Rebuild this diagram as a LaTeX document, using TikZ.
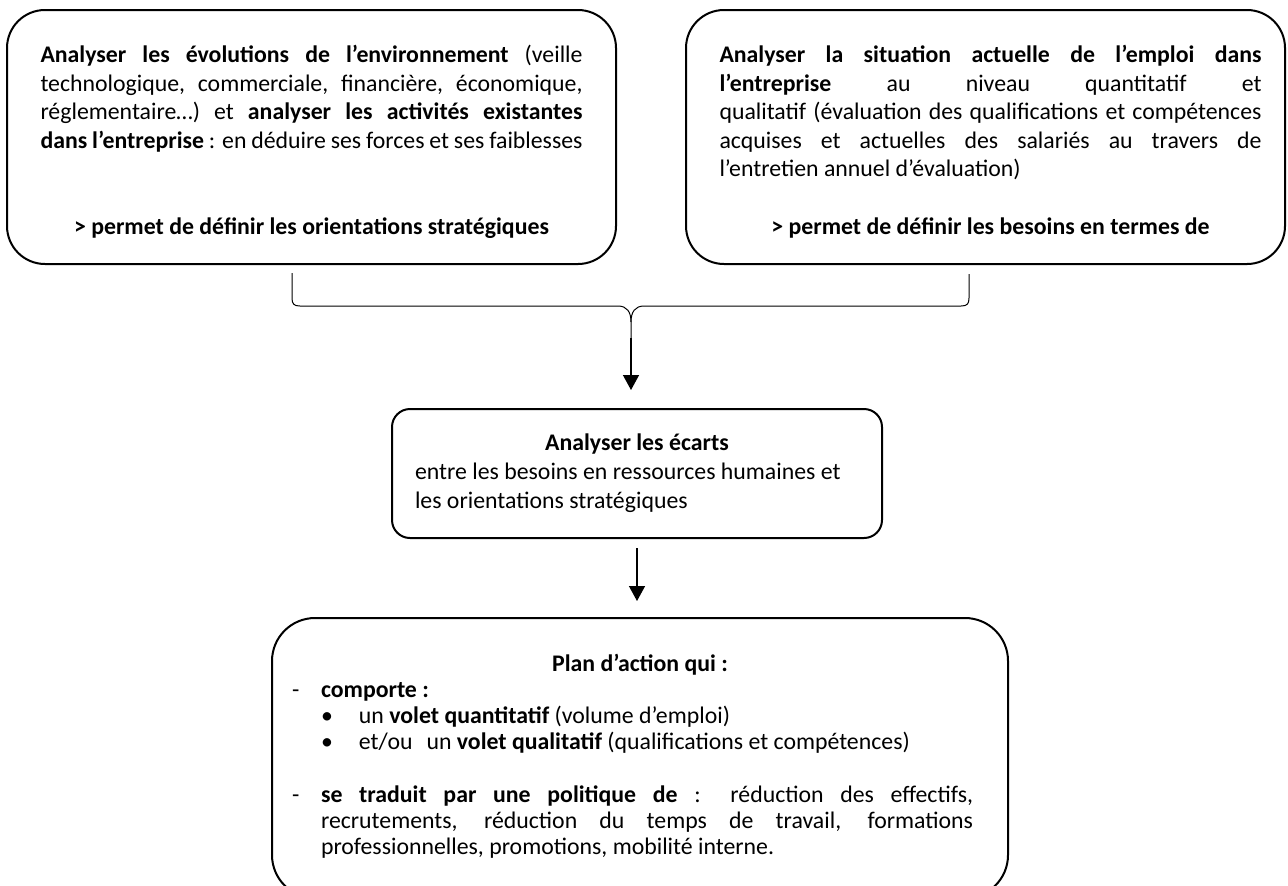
\documentclass[tikz,border=0pt]{standalone}
\usepackage{fontspec}
\setmainfont{Carlito}
\usetikzlibrary{positioning,arrows.meta}
\hbadness=10000

\begin{document}
\begin{tikzpicture}[x=0.5pt, y=-0.5pt,
    font=\fontsize{11.9pt}{14.25pt}\selectfont,
    analysis/.style={rectangle, draw, line width=1pt, rounded corners=19pt, minimum width=304.5pt, minimum height=127pt, inner sep=0pt},
    gapbox/.style={rectangle, draw, line width=1pt, rounded corners=9pt, minimum width=245pt, minimum height=64.5pt, inner sep=0pt, font=\fontsize{11.9pt}{14.5pt}\selectfont},
    planbox/.style={rectangle, draw, line width=1pt, rounded corners=21.5pt, minimum width=368pt, minimum height=140pt, inner sep=0pt, font=\fontsize{11.9pt}{13.1pt}\selectfont},
    brace/.style={line width=0.5pt},
    flow/.style={-{Triangle[length=7.5pt,width=8pt]}, line width=0.7pt}]

    \useasboundingbox (0,0) rectangle (1288,885);
    \clip (0,0) rectangle (1288,885);

    \node [analysis] (environment) at (311.5,137) {\parbox[c][99.5pt][s]{271pt}{%
        \vspace*{5pt}%
        \textbf{Analyser les évolutions de l’environnement} (veille\linebreak
        technologique, commerciale, financière, économique,\linebreak
        réglementaire…) et \textbf{analyser les activités existantes}\linebreak
        \textbf{dans l’entreprise} : en déduire ses forces et ses faiblesses\par
        \vfill
        {\centering\textbf{> permet de définir les orientations stratégiques}\par}}};
    \node [analysis, right=34pt of environment, minimum width=299.5pt] (employment) {\hspace*{5pt}\parbox[c][99.5pt][s]{271pt}{%
        \vspace*{5pt}%
        \textbf{Analyser la situation actuelle de l’emploi dans}\linebreak
        \textbf{l’entreprise} au niveau quantitatif et\linebreak
        qualitatif (évaluation des qualifications et compétences\linebreak
        acquises et actuelles des salariés au travers de\linebreak
        l’entretien annuel d’évaluation)\par
        \vfill
        {\centering\textbf{> permet de définir les besoins en termes de}\par}}};

    % accolade sous les deux analyses
    \coordinate (bracetip) at (631,338);
    \draw [brace] (292,273) -- (292,298) .. controls (292,304) and (294,306) .. (300,306) -- (618,306) .. controls (627,306) and (631,312) .. (631,322) -- (bracetip);
    \draw [brace] (969,274) -- (969,298) .. controls (969,304) and (967,306) .. (961,306) -- (644,306) .. controls (635,306) and (631,312) .. (631,322);

    \node [gapbox, below=35pt of bracetip, xshift=3pt] (gaps) {\parbox{222pt}{%
        {\centering\textbf{Analyser les écarts}\par}
        \raggedright entre les besoins en ressources humaines et\\
        les orientations stratégiques}};
    \node [planbox, below=39pt of gaps, xshift=1.5pt] (plan) {\parbox[c][104pt][t]{348pt}{%
        {\centering\textbf{Plan d’action qui :}\par}
        \noindent\makebox[14.5pt][l]{-}\textbf{comporte :}\par
        \noindent\hspace*{14.5pt}\makebox[19pt][l]{\textbullet}un \textbf{volet quantitatif} (volume d’emploi)\par
        \noindent\hspace*{14.5pt}\makebox[19pt][l]{\textbullet}et/ou\hspace{7pt}un \textbf{volet qualitatif} (qualifications et compétences)\par
        \vspace{13.1pt}
        {\rightskip=7.5pt\hangindent=14.5pt\hangafter=0\noindent\llap{\makebox[14.5pt][l]{-}}%
        \textbf{se traduit par une politique de} : réduction des effectifs,\linebreak
        recrutements, réduction du temps de travail, formations\linebreak
        professionnelles, promotions, mobilité interne.\par}}};

    \draw [flow, shorten >=9pt] (bracetip) -- (bracetip |- gaps.north);
    \draw [flow, shorten <=4.5pt, shorten >=8pt] (gaps.south) -- (gaps.south |- plan.north);
\end{tikzpicture}
\end{document}
